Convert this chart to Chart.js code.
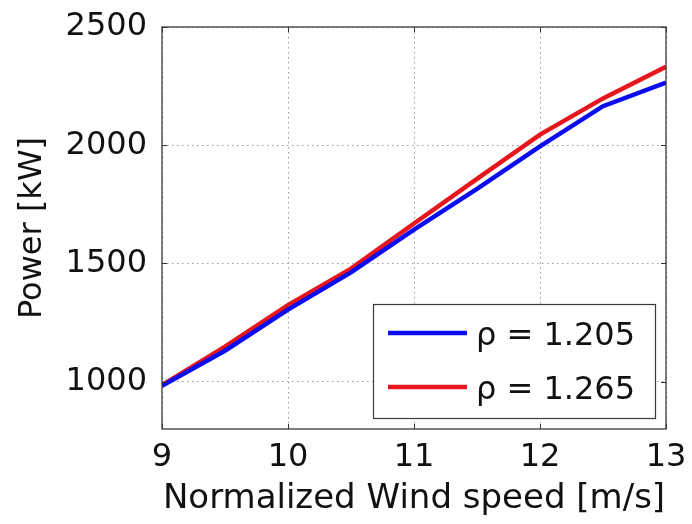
<!DOCTYPE html>
<html>
<head>
<meta charset="utf-8">
<script src="https://cdn.jsdelivr.net/npm/chart.js@4.4.1/dist/chart.umd.min.js"></script>
<style>
html,body{margin:0;padding:0;background:#fff;}
#wrap{width:692px;height:524px;}
</style>
</head>
<body>
<div id="wrap"><canvas id="c" width="692" height="524"></canvas></div>
<script>
const WIND_SPEED = [9, 9.5, 10, 10.5, 11, 11.5, 12, 12.5, 13];
const POWER_RHO_1205 = [983, 1131, 1305, 1462, 1643, 1815, 1995, 2165, 2265];
const POWER_RHO_1265 = [985, 1148, 1324, 1478, 1669, 1858, 2045, 2198, 2332];
const SERIES_LABELS = ['\u03c1 = 1.205', '\u03c1 = 1.265'];
const X_TICKS = [9, 10, 11, 12, 13];
const Y_TICKS = [1000, 1500, 2000, 2500];
const X_TITLE = 'Normalized Wind speed [m/s]';
const Y_TITLE = 'Power [kW]';

const FONT = 'DejaVu Sans';
const BLUE = '#0c0cf0';
const RED = '#e6161c';

function pts(ys){ return WIND_SPEED.map((x,i)=>({x:x, y:ys[i]})); }

const framePlugin = {
  id: 'frame',
  afterDatasetsDraw(chart){
    const {ctx, chartArea:a, scales} = chart;
    ctx.save();
    ctx.strokeStyle = '#333';
    ctx.lineWidth = 1;
    const L = 5;
    ctx.beginPath();
    X_TICKS.forEach(v=>{
      const px = Math.round(scales.x.getPixelForValue(v)) + 0.5;
      ctx.moveTo(px, a.bottom); ctx.lineTo(px, a.bottom - L);
      ctx.moveTo(px, a.top); ctx.lineTo(px, a.top + L);
    });
    Y_TICKS.forEach(v=>{
      const py = Math.round(scales.y.getPixelForValue(v)) + 0.5;
      ctx.moveTo(a.left, py); ctx.lineTo(a.left + L, py);
      ctx.moveTo(a.right, py); ctx.lineTo(a.right - L, py);
    });
    ctx.stroke();
    ctx.strokeStyle = '#3a3a3a';
    ctx.lineWidth = 1.3;
    ctx.strokeRect(a.left, a.top, a.right - a.left, a.bottom - a.top);

    const bw = 282, bh = 114;
    const bx = a.right - 11 - bw, by = a.bottom - 11 - bh;
    ctx.fillStyle = '#fff';
    ctx.fillRect(bx, by, bw, bh);
    ctx.strokeStyle = '#3a3a3a';
    ctx.lineWidth = 1.2;
    ctx.strokeRect(bx + 0.5, by + 0.5, bw, bh);
    chart.data.datasets.forEach((ds, i)=>{
      const cy = by + 29 + i * 54;
      ctx.strokeStyle = ds.borderColor;
      ctx.lineWidth = 4.5;
      ctx.beginPath();
      ctx.moveTo(bx + 15, cy); ctx.lineTo(bx + 94, cy);
      ctx.stroke();
      ctx.fillStyle = '#111';
      ctx.font = '32px "' + FONT + '"';
      ctx.textAlign = 'left';
      ctx.textBaseline = 'alphabetic';
      ctx.fillText(ds.label, bx + 103, cy + 12);
    });
    ctx.restore();
  }
};

new Chart(document.getElementById('c'), {
  type: 'line',
  data: {
    datasets: [
      { label: SERIES_LABELS[0], data: pts(POWER_RHO_1205), borderColor: BLUE, backgroundColor: BLUE, borderWidth: 4.5, pointRadius: 0, tension: 0, fill: false },
      { label: SERIES_LABELS[1], data: pts(POWER_RHO_1265), borderColor: RED, backgroundColor: RED, borderWidth: 4.5, pointRadius: 0, tension: 0, fill: false }
    ]
  },
  options: {
    responsive: false,
    animation: false,
    devicePixelRatio: 1,
    layout: { padding: { top: 27, right: 26, left: 0, bottom: 0 } },
    plugins: { legend: { display: false }, tooltip: { enabled: false } },
    scales: {
      x: {
        type: 'linear',
        min: 9, max: 13,
        afterBuildTicks(s){ s.ticks = X_TICKS.map(v=>({value:v})); },
        afterFit(s){ s.height = 95; s.paddingLeft = 0; s.paddingRight = 0; },
        ticks: { color: '#111', font: { family: FONT, size: 32 }, padding: 9, maxRotation: 0, autoSkip: false, callback: v => String(v) },
        grid: { color: '#9a9a9a', lineWidth: 1, drawTicks: false },
        border: { display: false, dash: [1.5, 3.5] },
        title: { display: true, text: X_TITLE, color: '#111', font: { family: FONT, size: 34, lineHeight: 1.2 }, padding: { top: 0, bottom: 4 } }
      },
      y: {
        type: 'linear',
        min: 800, max: 2500,
        afterBuildTicks(s){ s.ticks = Y_TICKS.map(v=>({value:v})); },
        afterFit(s){ s.width = 162; s.paddingTop = 0; s.paddingBottom = 0; },
        ticks: { color: '#111', font: { family: FONT, size: 32 }, padding: 15, autoSkip: false, callback: v => String(v) },
        grid: { color: '#9a9a9a', lineWidth: 1, drawTicks: false },
        border: { display: false, dash: [1.5, 3.5] },
        title: { display: true, text: Y_TITLE, color: '#111', font: { family: FONT, size: 32, lineHeight: 1.2 }, padding: { top: 13, bottom: 0 } }
      }
    }
  },
  plugins: [framePlugin]
});
</script>
</body>
</html>
